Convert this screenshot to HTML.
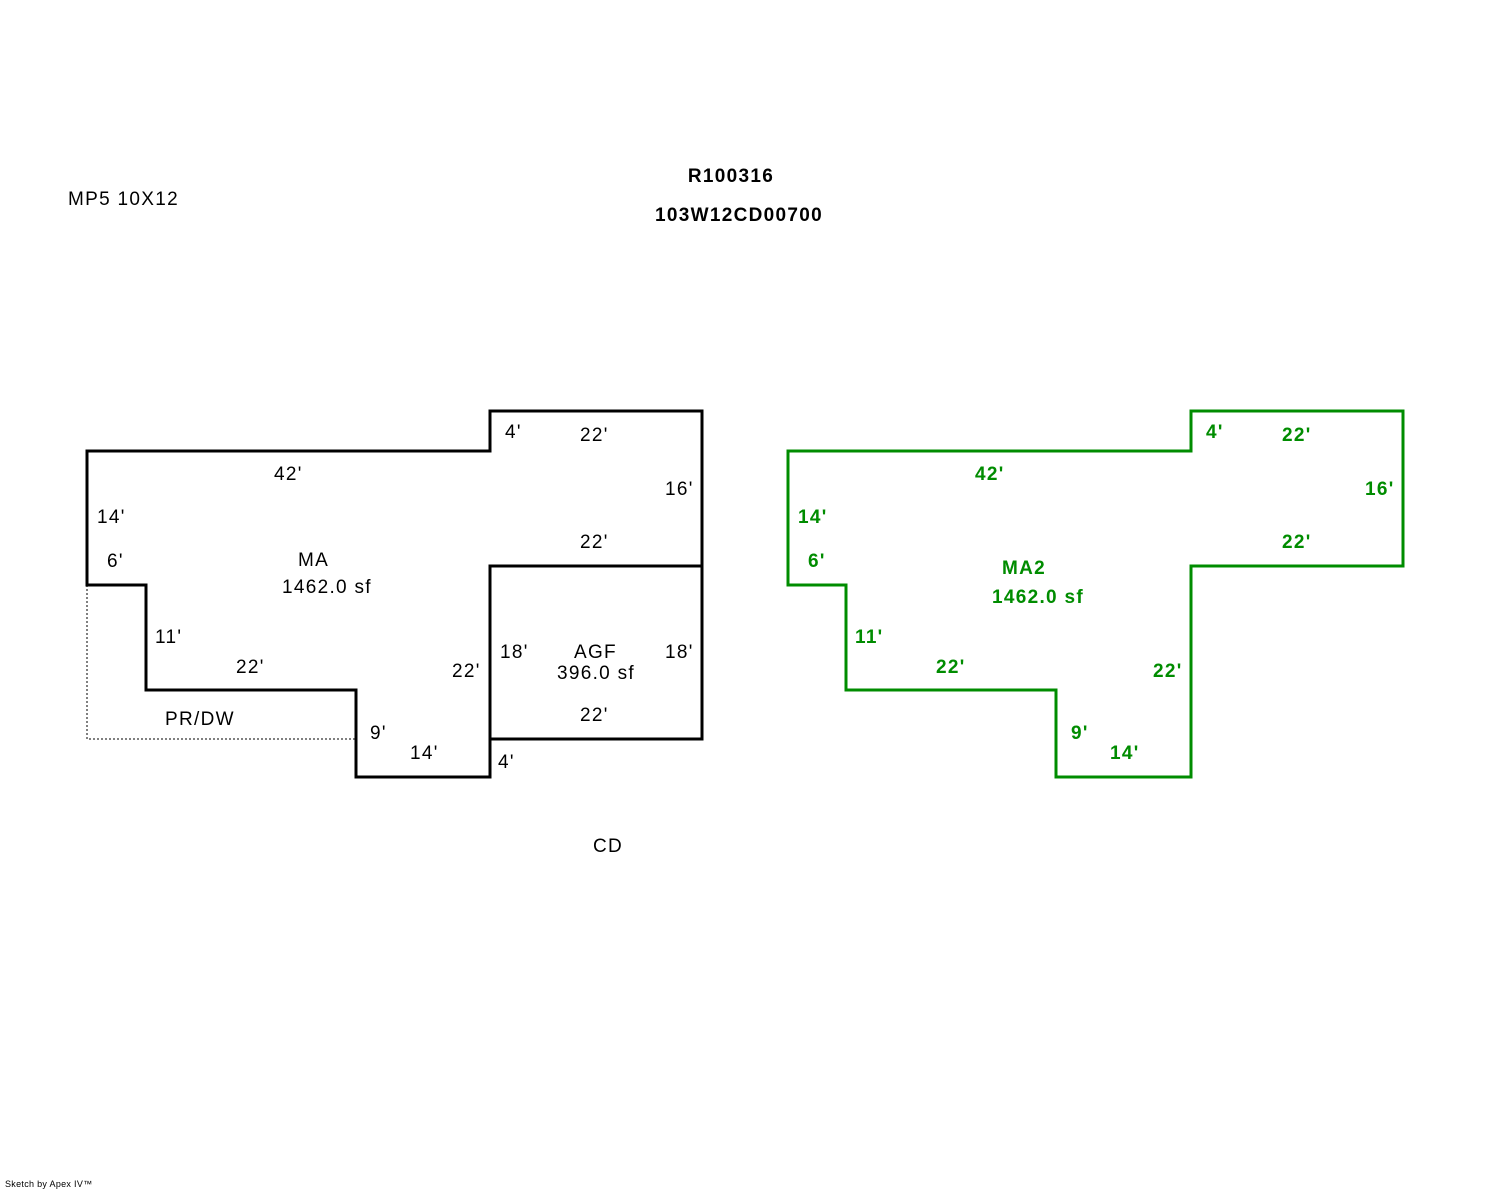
<!DOCTYPE html>
<html><head><meta charset="utf-8"><style>
html,body{margin:0;padding:0;background:#fff;}
svg{display:block;}
text{font-family:"Liberation Sans",Arial,sans-serif;font-size:19px;letter-spacing:1.3px;}
.b{font-weight:bold;}
.g{fill:#008c00;font-weight:bold;}
</style></head><body>
<svg width="1488" height="1190" viewBox="0 0 1488 1190">
<text x="731" y="182" text-anchor="middle" class="b">R100316</text>
<text x="739" y="221" text-anchor="middle" class="b">103W12CD00700</text>
<text x="68" y="205">MP5 10X12</text>

<polyline points="87,585 87,739 356,739" fill="none" stroke="#000" stroke-width="1" stroke-dasharray="2,2"/>
<polygon points="87,451 490,451 490,411 702,411 702,739 490,739 490,777 356,777 356,690 146,690 146,585 87,585" fill="none" stroke="#000" stroke-width="3"/>
<polyline points="490,739 490,566 702,566" fill="none" stroke="#000" stroke-width="3"/>

<text x="505" y="438">4'</text>
<text x="580" y="441">22'</text>
<text x="274" y="480">42'</text>
<text x="665" y="495">16'</text>
<text x="97" y="523">14'</text>
<text x="580" y="548">22'</text>
<text x="107" y="567">6'</text>
<text x="298" y="566">MA</text>
<text x="282" y="593">1462.0 sf</text>
<text x="155" y="643">11'</text>
<text x="500" y="658">18'</text>
<text x="574" y="658">AGF</text>
<text x="665" y="658">18'</text>
<text x="557" y="679">396.0 sf</text>
<text x="236" y="673">22'</text>
<text x="452" y="677">22'</text>
<text x="165" y="725">PR/DW</text>
<text x="580" y="721">22'</text>
<text x="370" y="739">9'</text>
<text x="410" y="759">14'</text>
<text x="498" y="768">4'</text>
<text x="593" y="852">CD</text>

<polygon points="788,451 1191,451 1191,411 1403,411 1403,566 1191,566 1191,777 1056,777 1056,690 846,690 846,585 788,585" fill="none" stroke="#008c00" stroke-width="3"/>
<text x="1206" y="438" class="g">4'</text>
<text x="1282" y="441" class="g">22'</text>
<text x="975" y="480" class="g">42'</text>
<text x="1365" y="495" class="g">16'</text>
<text x="798" y="523" class="g">14'</text>
<text x="1282" y="548" class="g">22'</text>
<text x="808" y="567" class="g">6'</text>
<text x="1002" y="574" class="g">MA2</text>
<text x="992" y="603" class="g">1462.0 sf</text>
<text x="855" y="643" class="g">11'</text>
<text x="936" y="673" class="g">22'</text>
<text x="1153" y="677" class="g">22'</text>
<text x="1071" y="739" class="g">9'</text>
<text x="1110" y="759" class="g">14'</text>

<text x="5" y="1187" style="font-size:9px;letter-spacing:0.3px">Sketch by Apex IV™</text>
</svg>
</body></html>
